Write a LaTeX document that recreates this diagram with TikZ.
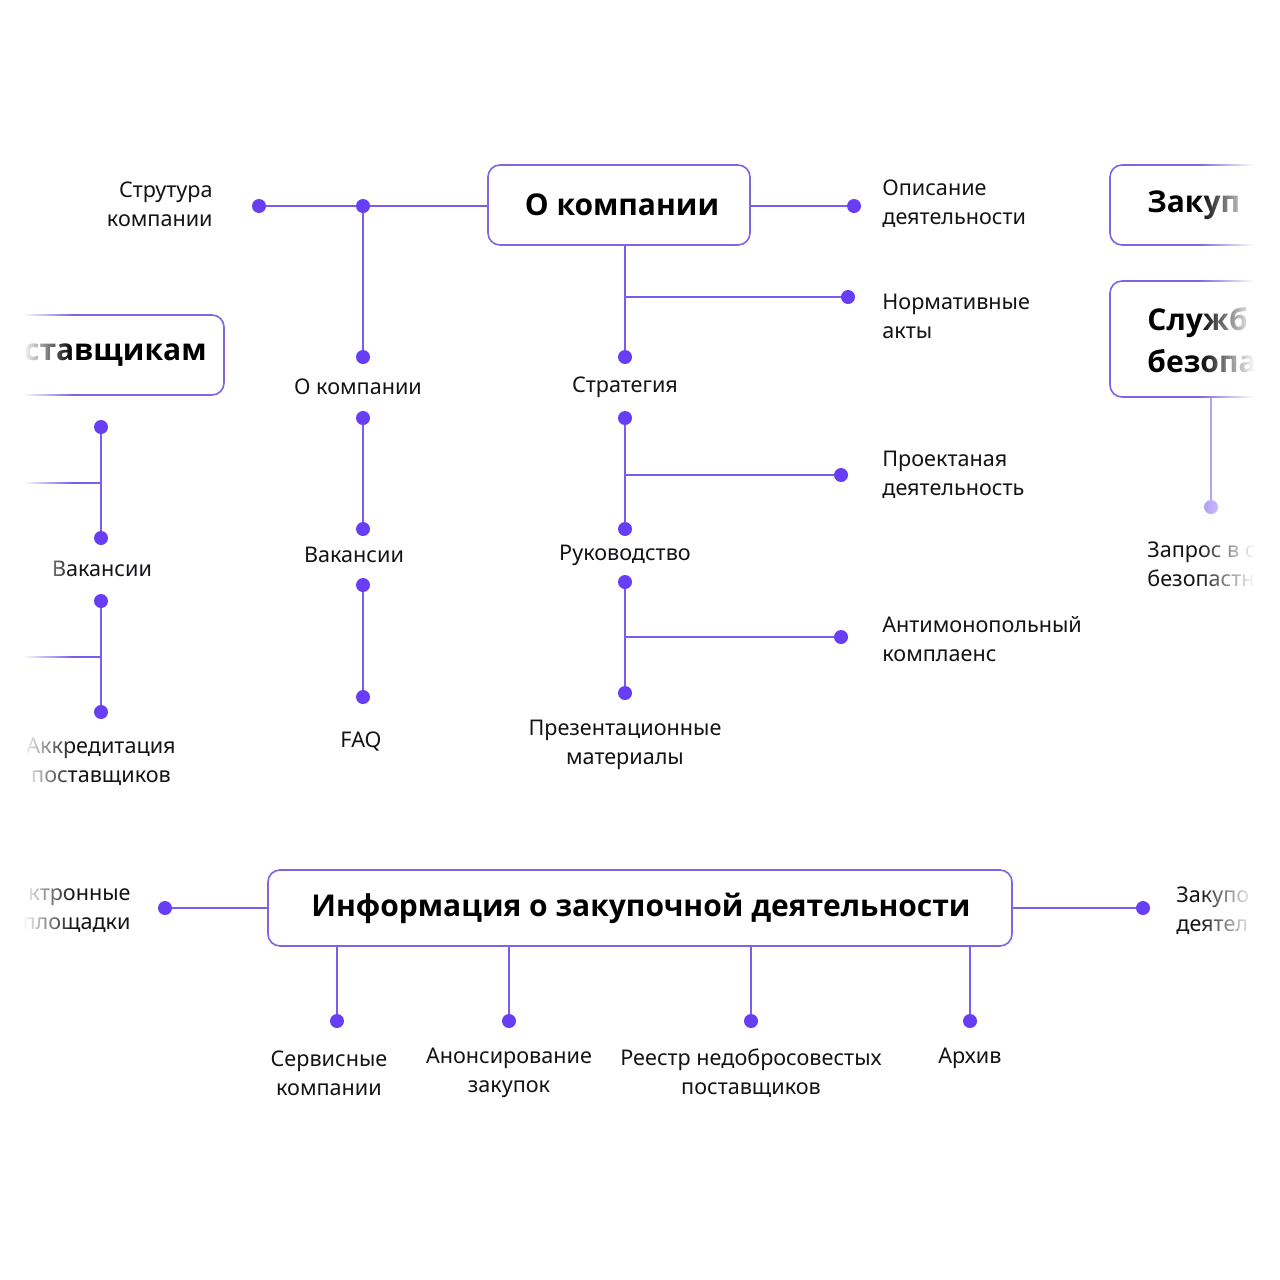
\documentclass[tikz,border=0pt]{standalone}
\usepackage{fontspec}
\setmainfont{Noto Sans}
\newfontfamily\ttlfont{Open Sans}
\definecolor{lnc}{RGB}{122,92,238}
\definecolor{boxc}{RGB}{128,100,226}
\definecolor{dotc}{RGB}{104,62,245}
\definecolor{txt}{RGB}{20,20,24}
\tikzset{
  ln/.style={draw=lnc, line width=1pt},
  dotn/.style={circle, fill=dotc, inner sep=0pt, minimum size=7pt},
  box/.style={draw=boxc, line width=0.8pt, rounded corners=6pt, fill=white, inner sep=0pt},
  ttl/.style={font=\ttlfont\fontsize{15}{21}\selectfont\bfseries, text=black, inner sep=0pt, align=left},
  lbl/.style={font=\fontsize{10.8}{14.5}\selectfont, text=txt, inner sep=0pt},
}
\begin{document}
\begin{tikzpicture}[x=0.5pt,y=-0.5pt]
\useasboundingbox (0,0) rectangle (1280,1280);
\clip (0,0) rectangle (1280,1280);
\fill[white] (0,0) rectangle (1280,1280);

% ---------- O kompanii ----------
\node[box, minimum width=131pt, minimum height=40pt] (ok) at (619,205) {};
\node[ttl] (okt) at (622,205) {О компании};

\node[dotn] (ds) at (259,206) {};
\node[dotn] (dj) at (363,206) {};
\node[dotn] (dop) at (854,206) {};
\draw[ln] (ds) -- (dj) -- (ok.west |- dj);
\draw[ln] (ok.east |- dop) -- (dop);
\node[lbl, anchor=east, align=right] (ls) at (213,204) {Струтура\\компании};
\node[lbl, anchor=west, align=left] (lop) at (882,204) {Описание\\деятельности};

% column 1
\node[dotn] (c1a) at (363,357) {};
\draw[ln] (dj) -- (c1a);
\node[lbl] (l1a) at (358,387) {О компании};
\node[dotn] (c1b) at (363,418) {};
\node[dotn] (c1c) at (363,529) {};
\draw[ln] (c1b) -- (c1c);
\node[lbl] (l1c) at (354,555) {Вакансии};
\node[dotn] (c1d) at (363,585) {};
\node[dotn] (c1e) at (363,697) {};
\draw[ln] (c1d) -- (c1e);
\node[lbl] (l1e) at (361,741) {FAQ};

% column 2
\node[dotn] (c2a) at (625,357) {};
\draw[ln] (ok.south -| c2a) -- (c2a);
\coordinate (j2a) at (625,297);
\node[dotn] (n2a) at (848,297) {};
\draw[ln] (j2a) -- (n2a);
\node[lbl, anchor=west, align=left] (ln2a) at (882,316) {Нормативные\\акты};
\node[lbl] (l2a) at (625,387) {Стратегия};

\node[dotn] (c2b) at (625,418) {};
\node[dotn] (c2c) at (625,529) {};
\draw[ln] (c2b) -- (c2c);
\coordinate (j2b) at (625,475);
\node[dotn] (n2b) at (841,475) {};
\draw[ln] (j2b) -- (n2b);
\node[lbl, anchor=west, align=left] (ln2b) at (882,475) {Проектаная\\деятельность};
\node[lbl] (l2c) at (625,555) {Руководство};

\node[dotn] (c2d) at (625,582) {};
\node[dotn] (c2e) at (625,693) {};
\draw[ln] (c2d) -- (c2e);
\coordinate (j2d) at (625,637);
\node[dotn] (n2d) at (841,637) {};
\draw[ln] (j2d) -- (n2d);
\node[lbl, anchor=west, align=left] (ln2d) at (882,639) {Антимонопольный\\комплаенс};
\node[lbl, align=center] (l2e) at (625,745) {Презентационные\\материалы};

% ---------- left partial column ----------
\node[box, minimum width=142pt, minimum height=40pt] (pb) at (82,355) {};
\node[ttl, anchor=east] (pbt) at (207,355) {ставщикам};
\node[dotn] (c0a) at (101,427) {};
\node[dotn] (c0b) at (101,538) {};
\draw[ln] (c0a) -- (c0b);
\coordinate (e0a) at (0,483);
\coordinate (j0a) at (101,483);
\draw[ln] (e0a) -- (j0a);
\node[lbl] (l0b) at (102,569) {Вакансии};
\node[dotn] (c0c) at (101,601) {};
\node[dotn] (c0d) at (101,712) {};
\draw[ln] (c0c) -- (c0d);
\coordinate (e0c) at (0,657);
\coordinate (j0c) at (101,657);
\draw[ln] (e0c) -- (j0c);
\node[lbl, align=center] (l0d) at (101,762) {Аккредитация\\поставщиков};

% ---------- right partial boxes ----------
\node[box, minimum width=120pt, minimum height=40pt] (zb) at (1230,205) {};
\node[ttl, anchor=west] (zbt) at (1147,205) {Закуп};
\node[box, minimum width=120pt, minimum height=58pt] (sb) at (1230,339) {};
\node[ttl, anchor=west, align=left] (sbt) at (1147,340) {Служб\\безопа};
\node[circle, fill=dotc!55, inner sep=0pt, minimum size=7pt] (sd) at (1211,507) {};
\draw[lnc!70, line width=1pt] (sb.south -| sd) -- (sd);
\node[lbl, anchor=west, align=left] (lsd) at (1147,564) {Запрос в с\\безопастн};

% ---------- bottom big box ----------
\node[box, minimum width=372pt, minimum height=38pt] (ib) at (640,908) {};
\node[ttl] (ibt) at (641,908) {Информация о закупочной деятельности};
\node[dotn] (bl) at (165,908) {};
\draw[ln] (bl) -- (ib.west |- bl);
\node[lbl, anchor=east, align=right] (lbl1) at (131,911) {ктронные\\площадки};
\node[dotn] (br) at (1143,908) {};
\draw[ln] (ib.east |- br) -- (br);
\node[lbl, anchor=west, align=left] (lbr) at (1176,911) {Закупо\\деятел};

\node[dotn] (b1) at (337,1021) {};
\node[dotn] (b2) at (509,1021) {};
\node[dotn] (b3) at (751,1021) {};
\node[dotn] (b4) at (970,1021) {};
\foreach \b in {b1,b2,b3,b4} \draw[ln] (ib.south -| \b) -- (\b);
\node[lbl, align=center] (lb1) at (329,1073) {Сервисные\\компании};
\node[lbl, align=center] (lb2) at (509,1073) {Анонсирование\\закупок};
\node[lbl, align=center] (lb3) at (751,1073) {Реестр недобросовестых\\поставщиков};
\node[lbl] (lb4) at (970,1058) {Архив};

% ---------- edge fades ----------
\fill[white] (-10,-10) rectangle (22,1290);
\foreach \i [evaluate=\i as \op using 1-\i/25] in {0,...,24}
  \fill[white, opacity=\op] (22+\i*2,-10) rectangle (24.4+\i*2,1290);
\foreach \i [evaluate=\i as \op using \i/28] in {0,...,27}
  \fill[white, opacity=\op] (1198+\i*2,-10) rectangle (1200.4+\i*2,1290);
\fill[white] (1254,-10) rectangle (1290,1290);
\end{tikzpicture}
\end{document}
